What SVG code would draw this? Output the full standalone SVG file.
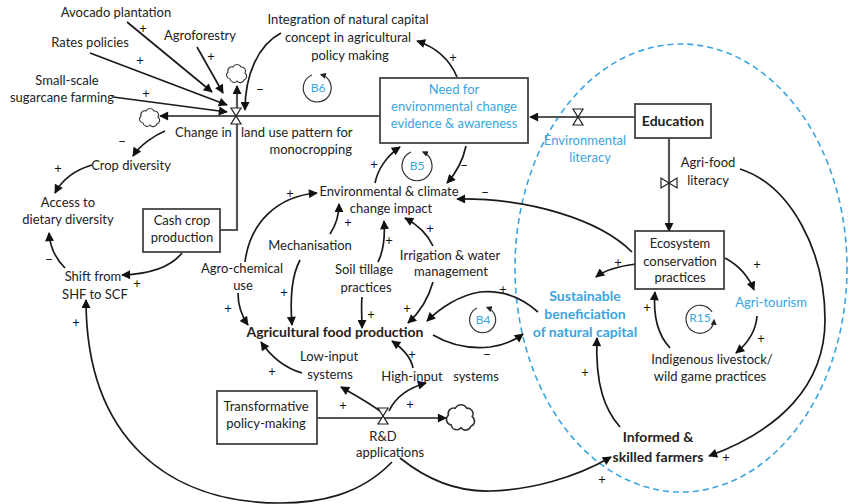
<svg xmlns="http://www.w3.org/2000/svg" width="857" height="504" viewBox="0 0 857 504">
<defs>
<style>
text{font-family:Lato,"Liberation Sans",sans-serif;font-size:13px;fill:#222;text-anchor:middle}
.b{font-weight:bold;font-size:14px}
.blue{fill:#3aa5e0}
.sg{font-size:13px;fill:#111}
.lb{font-size:12px}
.lk{fill:none;stroke:#1a1a1a;stroke-width:1.7;marker-end:url(#ah)}
.pipe{fill:none;stroke:#555;stroke-width:2.2}
.pa{marker-end:url(#ap)}
.box{fill:#fff;stroke:#444;stroke-width:1.8}
.valve{fill:#fff;stroke:#222;stroke-width:1.2}
.cloud{fill:#fff;stroke:#333;stroke-width:1.1}
.loop{fill:none;stroke:#333;stroke-width:1.2;marker-end:url(#al)}
.ell{fill:none;stroke:#3aa5e0;stroke-width:1.6;stroke-dasharray:6 4}
</style>
<marker id="ah" viewBox="0 0 10 10" refX="9" refY="5" markerWidth="11" markerHeight="9" markerUnits="userSpaceOnUse" orient="auto"><path d="M0,0 L10,5 L0,10 z" fill="#111"/></marker>
<marker id="ap" viewBox="0 0 10 10" refX="9" refY="5" markerWidth="10" markerHeight="9" markerUnits="userSpaceOnUse" orient="auto"><path d="M0,0 L10,5 L0,10 z" fill="#111"/></marker>
<marker id="al" viewBox="0 0 10 10" refX="8" refY="5" markerWidth="6" markerHeight="6" markerUnits="userSpaceOnUse" orient="auto"><path d="M0,0 L10,5 L0,10 z" fill="#222"/></marker>
<path id="cl" d="M-7,5 a4,4 0 0 1 -2,-7 a4,4 0 0 1 5,-5 a4.5,4.5 0 0 1 8,0 a4,4 0 0 1 4,6 a4,4 0 0 1 -1,7 a4,4 0 0 1 -7,1 a4,4 0 0 1 -7,-2 z"/>
</defs>
<rect width="857" height="504" fill="#fff"/>

<ellipse class="ell" cx="681" cy="268" rx="166" ry="224"/>

<g id="connectors">
<path class="pipe pa" d="M380 116 L160 116"/>
<path class="pipe pa" d="M237 110 L237 86"/>
<path class="pipe" d="M237 122 L237 230 L220 230"/>
<path class="pipe pa" d="M635 117 L530 117"/>
<path class="pipe pa" d="M669 138 L669 231"/>
<path class="pipe pa" d="M317 418 L446 418"/>
<path class="lk" d="M127 22 L212 92"/>
<path class="lk" d="M90 53 L227 105"/>
<path class="lk" d="M197 47 L223 93"/>
<path class="lk" d="M113 97 L227 112"/>
<path class="lk" d="M281 33 C258 45 245 75 245 110"/>
<path class="lk" d="M457 77 C450 60 438 48 417 41"/>
<path class="lk" d="M165 131 C155 135 140 145 133 156"/>
<path class="lk" d="M92 165 C75 170 62 180 55 193"/>
<path class="lk" d="M65 268 C55 258 50 248 49 233"/>
<path class="lk" d="M182 253 C170 268 150 274 122 275"/>
<path class="lk" d="M392 462 C360 495 320 503 280 503 C170 503 86 440 86 300"/>
<path class="lk" d="M400 458 C425 478 455 492 490 491 C530 490 575 478 611 457"/>
<path class="lk" d="M375 183 C378 168 388 155 400 147"/>
<path class="lk" d="M466 146 C463 160 457 172 447 183"/>
<path class="lk" d="M632 252 C600 220 530 198 457 199"/>
<path class="lk" d="M245 262 C250 222 278 196 317 193"/>
<path class="lk" d="M238 293 C238 305 241 315 248 325"/>
<path class="lk" d="M330 234 C336 225 339 215 339 204"/>
<path class="lk" d="M300 260 C292 275 290 300 292 325"/>
<path class="lk" d="M378 262 C384 250 385 235 384 221"/>
<path class="lk" d="M362 297 C361 307 362 317 362 328"/>
<path class="lk" d="M433 246 C428 235 418 225 405 218"/>
<path class="lk" d="M433 282 C428 300 420 312 408 323"/>
<path class="lk" d="M538 312 C520 296 500 290 480 292 C460 295 440 308 427 321"/>
<path class="lk" d="M433 335 C450 345 470 349 490 347 C505 345 515 340 523 334"/>
<path class="lk" d="M302 373 C285 368 272 358 261 342"/>
<path class="lk" d="M413 368 C411 357 402 348 392 341"/>
<path class="lk" d="M380 411 C368 402 355 395 341 387"/>
<path class="lk" d="M389 411 C395 398 408 388 426 383"/>
<path class="lk" d="M636 264 C620 266 605 270 596 277"/>
<path class="lk" d="M725 258 C738 265 748 275 754 290"/>
<path class="lk" d="M757 316 C756 330 748 343 736 353"/>
<path class="lk" d="M670 348 C658 335 653 315 655 292"/>
<path class="lk" d="M620 427 C605 410 595 385 597 338"/>
<path class="lk" d="M740 169 C790 185 825 250 825 320 C825 385 780 430 709 456"/>
<path class="loop" d="M312 75 A14 14 0 1 0 321 74.5"/>
<path class="loop" d="M411 152 A15 15 0 1 0 423 152"/>
<path class="loop" d="M477 308 A13 13 0 1 0 487 307.5"/>
<path class="loop" d="M712 312 A14 14 0 1 0 714 320"/>
</g>

<g id="valve1"><polygon class="valve" points="231,108 241,108 236,116"/><polygon class="valve" points="231,124 241,124 236,116"/></g>
<g id="valve2"><polygon class="valve" points="573,109 583,109 578,117"/><polygon class="valve" points="573,125 583,125 578,117"/></g>
<g id="valve3"><polygon class="valve" points="661,178 661,188 669,183"/><polygon class="valve" points="677,178 677,188 669,183"/></g>
<g id="valve4"><polygon class="valve" points="378,408 388,408 383,416"/><polygon class="valve" points="378,424 388,424 383,416"/></g>
<g id="cloud1"><use href="#cl" class="cloud" transform="translate(150,118)"/></g>
<g id="cloud2"><use href="#cl" class="cloud" transform="translate(237,74)"/></g>
<g id="cloud3"><use href="#cl" class="cloud" transform="translate(461,418) scale(1.4)"/></g>

<text class="blue lb" x="318" y="92">B6</text>
<text class="blue lb" x="417" y="170">B5</text>
<text class="blue lb" x="483" y="324">B4</text>
<text class="blue lb" x="700" y="322">R15</text>

<g id="avocado"><text x="116" y="17">Avocado plantation</text></g>
<g id="rates"><text x="90" y="47">Rates policies</text></g>
<g id="agroforestry"><text x="200" y="40">Agroforestry</text></g>
<g id="sugarcane"><text x="67" y="85">Small-scale</text><text x="62" y="102">sugarcane farming</text></g>
<g id="integration"><text x="348" y="24">Integration of natural capital</text><text x="348" y="42">concept in agricultural</text><text x="350" y="60">policy making</text></g>
<g id="need"><rect class="box" x="380" y="78" width="148" height="65"/><text class="blue" x="454" y="94">Need for</text><text class="blue" x="454" y="111">environmental change</text><text class="blue" x="454" y="128">evidence &amp; awareness</text></g>
<g id="landuse"><text x="175" y="137" style="text-anchor:start">Change in</text><text x="241" y="137" style="text-anchor:start">land use pattern for</text><text x="352" y="154" style="text-anchor:end">monocropping</text></g>
<g id="cropdiv"><text x="131" y="170">Crop diversity</text></g>
<g id="access"><text x="68" y="207">Access to</text><text x="68" y="224">dietary diversity</text></g>
<g id="cashcrop"><rect class="box" x="143" y="209" width="77" height="43"/><text x="182" y="225">Cash crop</text><text x="182" y="242">production</text></g>
<g id="shift"><text x="93" y="281">Shift from</text><text x="95" y="299">SHF to SCF</text></g>
<g id="env"><text x="389" y="196">Environmental &amp; climate</text><text x="391" y="213">change impact</text></g>
<g id="mech"><text x="310" y="250">Mechanisation</text></g>
<g id="agrochem"><text x="242" y="273">Agro-chemical</text><text x="243" y="290">use</text></g>
<g id="soil"><text x="364" y="274">Soil tillage</text><text x="366" y="292">practices</text></g>
<g id="irrig"><text x="450" y="260">Irrigation &amp; water</text><text x="451" y="276">management</text></g>
<g id="afp"><text class="b" x="335" y="337">Agricultural food production</text></g>
<g id="lowinput"><text x="329" y="361">Low-input</text><text x="330" y="379">systems</text></g>
<g id="highinput"><text x="412" y="381">High-input</text><text x="476" y="381">systems</text></g>
<g id="transform"><rect class="box" x="217" y="391" width="100" height="53"/><text x="266" y="411">Transformative</text><text x="266" y="428">policy-making</text></g>
<g id="rd"><text x="383" y="441">R&amp;D</text><text x="390" y="457">applications</text></g>
<g id="education"><rect class="box" x="635" y="104" width="76" height="34"/><text class="b" x="673" y="126">Education</text></g>
<g id="envlit"><text class="blue" x="585" y="145">Environmental</text><text class="blue" x="590" y="162">literacy</text></g>
<g id="agrifood"><text x="708" y="167">Agri-food</text><text x="708" y="185">literacy</text></g>
<g id="ecosystem"><rect class="box" x="635" y="231" width="89" height="58"/><text x="680" y="248">Ecosystem</text><text x="680" y="266">conservation</text><text x="680" y="282">practices</text></g>
<g id="sustainable"><text class="b blue" x="585" y="301">Sustainable</text><text class="b blue" x="585" y="319">beneficiation</text><text class="b blue" x="585" y="337">of natural capital</text></g>
<g id="agritourism"><text class="blue" x="771" y="307">Agri-tourism</text></g>
<g id="indigenous"><text x="712" y="364">Indigenous livestock/</text><text x="710" y="381">wild game practices</text></g>
<g id="informed"><text class="b" x="658" y="442">Informed &amp;</text><text class="b" x="658" y="462">skilled farmers</text></g>

<g id="signs">
<text class="sg" x="143" y="33">+</text><text class="sg" x="211" y="61">+</text><text class="sg" x="140" y="65">+</text><text class="sg" x="146" y="98">+</text>
<text class="sg" x="260" y="94">−</text><text class="sg" x="453" y="62">+</text><text class="sg" x="122" y="146">−</text><text class="sg" x="58" y="173">+</text>
<text class="sg" x="49" y="264">−</text><text class="sg" x="137" y="288">+</text><text class="sg" x="76" y="327">+</text><text class="sg" x="374" y="169">+</text>
<text class="sg" x="464" y="170">−</text><text class="sg" x="485" y="197">−</text><text class="sg" x="290" y="198">+</text><text class="sg" x="348" y="227">+</text>
<text class="sg" x="389" y="245">+</text><text class="sg" x="430" y="233">+</text><text class="sg" x="228" y="313">+</text><text class="sg" x="284" y="297">+</text>
<text class="sg" x="371" y="319">+</text><text class="sg" x="407" y="313">+</text><text class="sg" x="503" y="294">+</text><text class="sg" x="487" y="359">−</text>
<text class="sg" x="272" y="376">+</text><text class="sg" x="412" y="359">+</text><text class="sg" x="343" y="410">+</text><text class="sg" x="410" y="409">+</text>
<text class="sg" x="618" y="267">+</text><text class="sg" x="757" y="269">+</text><text class="sg" x="761" y="343">+</text><text class="sg" x="647" y="312">+</text>
<text class="sg" x="585" y="377">+</text><text class="sg" x="726" y="462">+</text><text class="sg" x="602" y="484">+</text>
</g>
</svg>
